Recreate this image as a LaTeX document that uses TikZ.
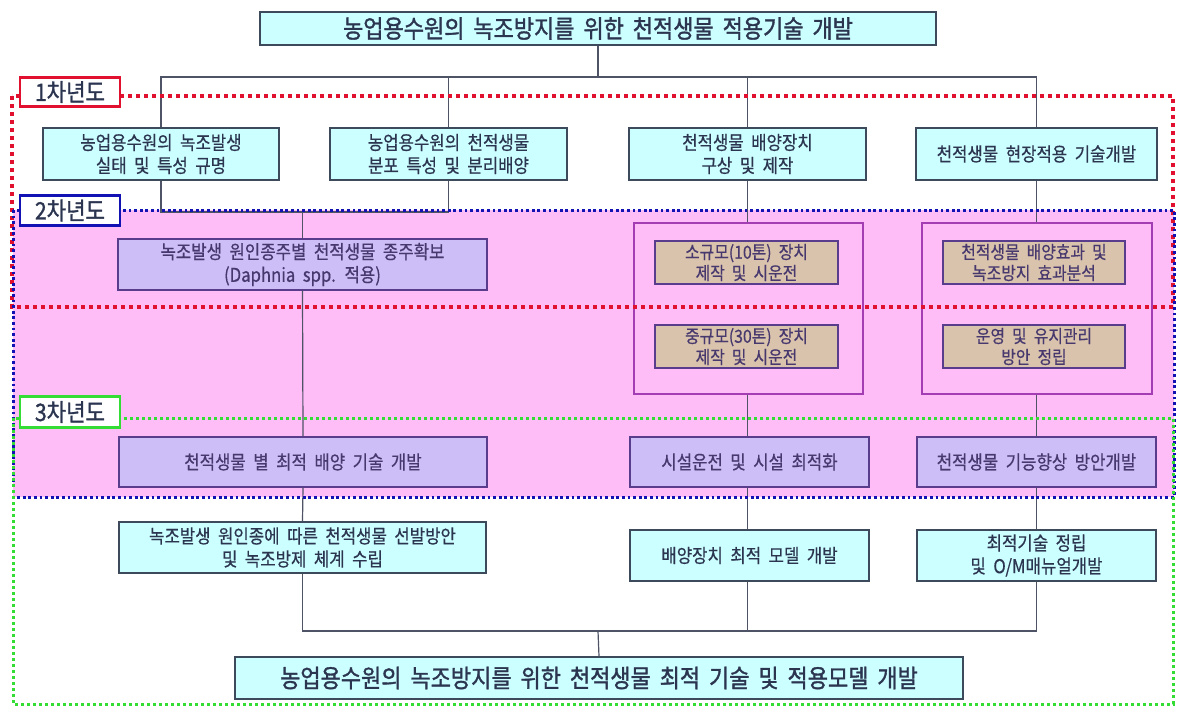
\documentclass[tikz,border=0pt]{standalone}
\usepackage{fontspec}
\setmainfont{Noto Sans CJK KR}[WordSpace=2, FakeStretch=0.88, FakeBold=0.5]
\newfontfamily\dgheavy{Noto Sans CJK KR}[WordSpace=1.8, FakeStretch=0.88, FakeBold=1.3]
\definecolor{skyfill}{HTML}{CCFFFF}
\definecolor{skyedge}{HTML}{3C4A5C}
\definecolor{lilacfill}{HTML}{CDBEF8}
\definecolor{lilacedge}{HTML}{5A3C8C}
\definecolor{tanfill}{HTML}{D9C3AC}
\definecolor{pinkband}{HTML}{FFBDF8}
\definecolor{frameedge}{HTML}{A43CB4}
\definecolor{inkdark}{HTML}{2C3550}
\definecolor{inkpurple}{HTML}{47386E}
\definecolor{wire}{HTML}{4E5466}
\definecolor{yearred}{HTML}{E0102E}
\definecolor{yearblue}{HTML}{1212B4}
\definecolor{yeargreen}{HTML}{33DD33}
\newcommand{\dgbody}{\fontsize{19}{23}\selectfont}
\newcommand{\dgsmall}{\fontsize{18}{21}\selectfont}
\newcommand{\dgtitle}{\dgheavy\fontsize{25}{28}\selectfont}
\newcommand{\dgyear}{\dgheavy\fontsize{24}{28}\selectfont}
\begin{document}
\begin{tikzpicture}[x=1pt,y=-1pt,
  sz/.style 2 args={minimum width=#1pt, minimum height=#2pt},
  basebox/.style={line width=1.2pt, inner sep=0pt, align=center},
  skybox/.style={basebox, draw=skyedge, fill=skyfill, text=inkdark, font=\dgbody},
  titlebox/.style={skybox, font=\dgtitle},
  lilacbox/.style={basebox, draw=lilacedge, fill=lilacfill, text=inkpurple, font=\dgbody},
  tanbox/.style={basebox, draw=lilacedge, fill=tanfill, text=inkpurple, font=\dgsmall},
  groupframe/.style={basebox, draw=frameedge, line width=1.3pt},
  yearlabel/.style={inner sep=0pt, fill=white, line width=2.4pt, text=inkdark, font=\dgyear},
  wireline/.style={draw=wire, line width=1.2pt},
  redband/.style={draw=yearred, line width=3.6pt, dash pattern=on 4pt off 4pt},
  blueband/.style={draw=yearblue, line width=3pt, dash pattern=on 2.8pt off 2.8pt},
  greenband/.style={draw=yeargreen, line width=3pt, dash pattern=on 3pt off 3pt}]

\useasboundingbox (0,0) rectangle (1177,706);
\fill[white] (0,0) rectangle (1177,706);

% pink band of the second year
\fill[pinkband] (13,210) rectangle (1174,497);

% title and result
\node (top) [titlebox, sz={676}{33}] at (598,28.5) {농업용수원의 녹조방지를 위한 천적생물 적용기술 개발};
\node (bot) [titlebox, sz={728}{42}] at (599,678) {농업용수원의 녹조방지를 위한 천적생물 최적 기술 및 적용모델 개발};

% first year
\node (b1) [skybox, sz={236}{52}] at (161,154) {농업용수원의 녹조발생\\실태 및 특성 규명};
\node (b2) [skybox, sz={237}{52}] at (448.5,154) {농업용수원의 천적생물\\분포 특성 및 분리배양};
\node (b3) [skybox, sz={237}{52}] at (747.5,154) {천적생물 배양장치\\구상 및 제작};
\node (b4) [skybox, sz={241}{52}] at (1036.5,154) {천적생물 현장적용 기술개발};

% second year
\node (b5) [lilacbox, sz={369}{51}] at (302.5,264.5) {녹조발생 원인종주별 천적생물 종주확보\\(Daphnia spp. 적용)};
\node (c1) [groupframe, sz={229}{171}] at (748.5,308.5) {};
\node (c2) [groupframe, sz={230}{171}] at (1037,308.5) {};
\node (c1a) [tanbox, sz={183}{43}] at (746.5,262.5) {소규모(10톤) 장치\\제작 및 시운전};
\node (c1b) [tanbox, sz={183}{43}] at (746.5,346.5) {중규모(30톤) 장치\\제작 및 시운전};
\node (c2a) [tanbox, sz={182}{43}] at (1034,262.5) {천적생물 배양효과 및\\녹조방지 효과분석};
\node (c2b) [tanbox, sz={182}{43}] at (1034,346.5) {운영 및 유지관리\\방안 정립};

% third year
\node (b9) [lilacbox, sz={368}{50}] at (303,462) {천적생물 별 최적 배양 기술 개발};
\node (b10) [lilacbox, sz={239}{50}] at (749.5,462) {시설운전 및 시설 최적화};
\node (b11) [lilacbox, sz={239}{50}] at (1036.5,462) {천적생물 기능향상 방안개발};
\node (b12) [skybox, sz={367}{51}] at (302.5,547.5) {녹조발생 원인종에 따른 천적생물 선발방안\\및 녹조방제 체계 수립};
\node (b13) [skybox, sz={239}{51}] at (749.5,555.5) {배양장치 최적 모델 개발};
\node (b14) [skybox, sz={239}{51}] at (1036.5,555.5) {최적기술 정립\\및 O/M매뉴얼개발};

% connectors
\coordinate (hubtop) at (598,77);
\coordinate (hubmid) at (302.5,212);
\coordinate (hubbot) at (598,631);
\draw[wireline] (top.south) -- (hubtop);
\draw[wireline] (b1.north) |- (hubtop);
\draw[wireline] (b4.north) |- (hubtop);
\draw[wireline] (b2.north) -- (b2.north |- hubtop);
\draw[wireline] (b3.north) -- (b3.north |- hubtop);
\draw[wireline] (b1.south) |- (b2.south |- hubmid) -- (b2.south);
\draw[wireline] (hubmid) -- (b5.north);
\draw[wireline] (b5.south) -- (b9.north);
\draw[wireline] (b3.south) -- (b3.south |- c1.north);
\draw[wireline] (b4.south) -- (b4.south |- c2.north);
\draw[wireline] (c1.south -| b3.south) -- (b10.north -| b3.south);
\draw[wireline] (c2.south -| b4.south) -- (b11.north -| b4.south);
\draw[wireline] (b9.south) -- (b12.north);
\draw[wireline] (b10.south -| b3.south) -- (b13.north -| b3.south);
\draw[wireline] (b11.south -| b4.south) -- (b14.north -| b4.south);
\draw[wireline] (b12.south) |- (hubbot);
\draw[wireline] (b14.south -| b4.south) |- (hubbot);
\draw[wireline] (b13.south -| b3.south) -- (hubbot -| b3.south);
\draw[wireline] (hubbot) -- (bot.north);

% year frames
\draw[redband] (12,96) rectangle (1173,307);
\draw[blueband] (13,210) rectangle (1174,497);
\draw[greenband] (13,418) rectangle (1173,704);

% year labels
\node (y1) [yearlabel, draw=yearred, sz={100}{29}] at (70,92) {1차년도};
\node (y2) [yearlabel, draw=yearblue, sz={100}{30}] at (70,210.5) {2차년도};
\node (y3) [yearlabel, draw=yeargreen, sz={100}{31}] at (70,412) {3차년도};
\end{tikzpicture}
\end{document}
